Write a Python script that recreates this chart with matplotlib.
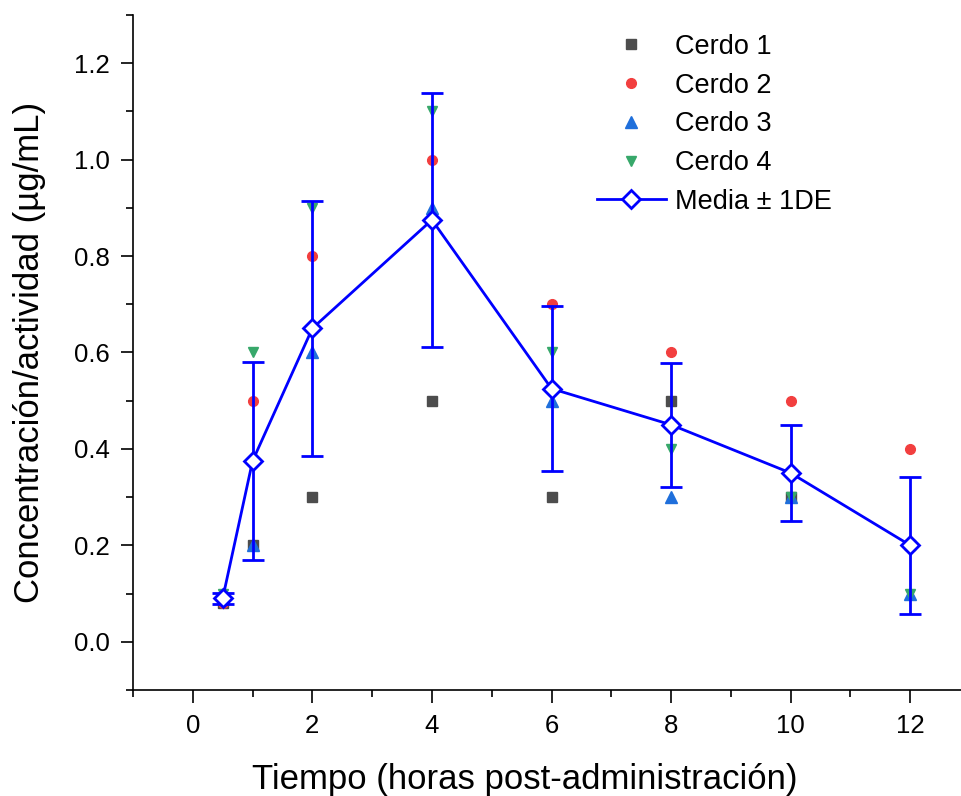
import numpy as np
import matplotlib
matplotlib.use("Agg")
import matplotlib.pyplot as plt
from matplotlib.ticker import MultipleLocator

plt.rcParams['font.family'] = ['Liberation Sans', 'DejaVu Sans']

tiempo = [0.5, 1, 2, 4, 6, 8, 10, 12]
cerdo1 = [0.08, 0.2, 0.3, 0.5, 0.3, 0.5, 0.3, 0.2]
cerdo2 = [0.08, 0.5, 0.8, 1.0, 0.7, 0.6, 0.5, 0.4]
cerdo3 = [0.1, 0.2, 0.6, 0.9, 0.5, 0.3, 0.3, 0.1]
cerdo4 = [0.1, 0.6, 0.9, 1.1, 0.6, 0.4, 0.3, 0.1]

data = np.array([cerdo1, cerdo2, cerdo3, cerdo4])
media = data.mean(axis=0)
de = data.std(axis=0, ddof=1)

fig = plt.figure(figsize=(9.61, 7.96), dpi=100)
ax = fig.add_axes([0.1384, 0.1332, 0.871, 0.848])

ms = 7
h1, = ax.plot(tiempo, cerdo1, 's', color='#4d4d4d', ms=ms-0.5, ls='none', label='Cerdo 1')
h2, = ax.plot(tiempo, cerdo2, 'o', color='#f23f3f', ms=ms, ls='none', label='Cerdo 2')
h3, = ax.plot(tiempo, cerdo3, '^', color='#1f6fdb', ms=ms+1, ls='none', label='Cerdo 3')
h4, = ax.plot(tiempo, cerdo4, 'v', color='#37a86a', ms=ms, ls='none', label='Cerdo 4')
ax.errorbar(tiempo, media, yerr=de, color='#0000ff', lw=2, fmt='none',
            capsize=8, capthick=2, elinewidth=2)
h5, = ax.plot(tiempo, media, color='#0000ff', lw=2, marker='D', ms=9,
              mfc='white', mec='#0000ff', mew=2, label='Media ± 1DE')

ax.set_xlim(-1, 13)
ax.set_ylim(-0.1, 1.3)
ax.xaxis.set_minor_locator(MultipleLocator(1))
ax.yaxis.set_minor_locator(MultipleLocator(0.1))
yt = np.arange(0, 1.21, 0.2)
ax.set_yticks(yt)
ax.set_yticklabels([f"{v:.1f}" for v in yt])
ax.set_xticks(range(0, 13, 2))

for s in ['top', 'right']:
    ax.spines[s].set_visible(False)
for s in ['left', 'bottom']:
    ax.spines[s].set_linewidth(1.2)
ax.tick_params(which='major', direction='out', length=9, width=1.2, labelsize=18.5, pad=8)
ax.tick_params(which='minor', direction='out', length=5, width=1.2)

ax.set_xlabel('Tiempo (horas post-administración)', fontsize=25, labelpad=18)
ax.xaxis.label.set_x(0.468)
ax.set_ylabel('Concentración/actividad (µg/mL)', fontsize=25, labelpad=20)

leg = ax.legend(handles=[h1, h2, h3, h4, h5], loc='upper left',
                bbox_to_anchor=(0.525, 1.008), frameon=False,
                fontsize=19.5, handlelength=2.55, labelspacing=0.47,
                handletextpad=0.35, borderpad=0.4)

fig.savefig('out.png', dpi=100)
